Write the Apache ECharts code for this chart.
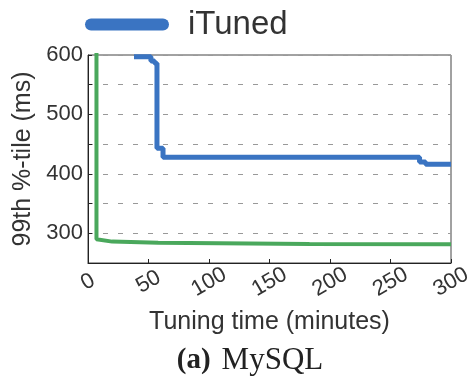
<!DOCTYPE html>
<html><head><meta charset="utf-8">
<script src="https://cdn.jsdelivr.net/npm/echarts@6/dist/echarts.min.js"></script>
<style>html,body{margin:0;padding:0;background:#fff}#c{width:475px;height:377px}</style>
</head><body><div id="c"></div>
<script>
const ituned = [[38,597],[52,590],[55,586],[57,443],[62,428],[274,420],[279,416],[300,416]];
const other = [[7,660],[7,290],[20,286],[58,284],[183,282],[300,281.5]];
const xTicks = [0,50,100,150,200,250,300];
const yLabels = [300,400,500,600];

const chart = echarts.init(document.getElementById('c'));
chart.setOption({
  animation:false,
  textStyle:{fontFamily:'Liberation Sans'},
  grid:{left:88,right:18,top:55,bottom:114,show:true,borderColor:'#444',borderWidth:1},
  legend:{data:['iTuned'],left:80,top:3,itemWidth:84,itemHeight:12,itemGap:20,
    icon:'path://M6,0 H78 A6,6 0 0 1 78,12 H6 A6,6 0 0 1 6,0 Z',
    textStyle:{fontSize:33,color:'#333',fontFamily:'Liberation Sans',padding:[0,0,0,14]}},
  title:{text:'{b|(a)}{r|MySQL}',left:245,top:340,textAlign:'center',
    textStyle:{rich:{b:{fontFamily:'Liberation Serif',fontWeight:'bold',fontSize:29,color:'#222'},
                     r:{fontFamily:'Liberation Serif',fontWeight:'normal',fontSize:31,color:'#222',padding:[0,0,0,11]}}}},
  xAxis:{type:'value',min:0,max:300,interval:50,
    name:'Tuning time (minutes)',nameLocation:'middle',nameGap:47,
    nameTextStyle:{fontSize:25,color:'#333'},
    axisLine:{lineStyle:{color:'#222'}},
    axisTick:{inside:true,length:4,lineStyle:{color:'#222'}},
    axisLabel:{rotate:30,fontSize:22,color:'#333',margin:19,align:'center',verticalAlign:'middle',
      formatter:v=>xTicks.includes(v)?String(v):''},
    splitLine:{show:false}},
  yAxis:{type:'value',min:250,max:600,interval:50,
    name:'99th %-tile (ms)',nameLocation:'middle',nameGap:51,
    nameTextStyle:{fontSize:25,color:'#333'},
    axisLine:{show:true,lineStyle:{color:'#222'}},
    axisTick:{show:true,inside:true,length:4,lineStyle:{color:'#222'}},
    axisLabel:{fontSize:22,color:'#333',margin:5,
      formatter:v=>yLabels.includes(v)?String(v):''},
    splitLine:{show:true,lineStyle:{type:[5,10],color:'#999',width:1.2}}},
  series:[
    {name:'other',type:'line',data:other,symbol:'none',clip:true,
      lineStyle:{color:'#4aa85c',width:4},itemStyle:{color:'#4aa85c'},z:2},
    {name:'iTuned',type:'line',step:'end',data:ituned,symbol:'none',clip:true,
      lineStyle:{color:'#3a74c2',width:5},itemStyle:{color:'#3a74c2'},z:3}
  ]
});
</script></body></html>
